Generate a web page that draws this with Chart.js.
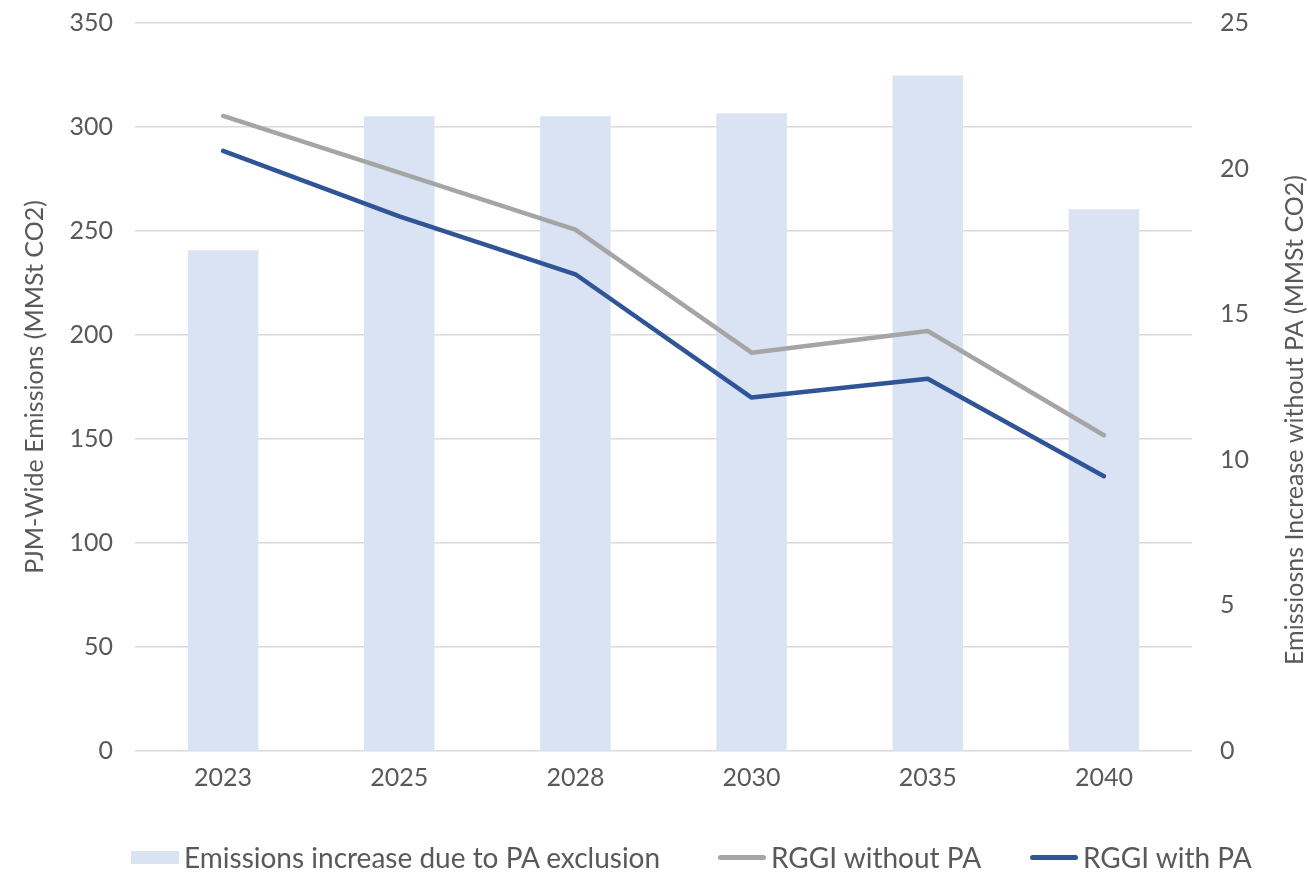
<!DOCTYPE html>
<html>
<head>
<meta charset="utf-8">
<title>PJM-Wide Emissions</title>
<script src="https://cdn.jsdelivr.net/npm/chart.js@4"></script>
<style>
    html, body { margin: 0; padding: 0; background: #ffffff; }
    #chartWrap { position: relative; width: 1308px; height: 872px; overflow: hidden; }
    #chartLegend { position: absolute; left: 0; top: 0; width: 1308px; height: 872px; pointer-events: none; }
    .legend-item {
        position: absolute; top: 842px; display: flex; align-items: center;
        font-family: Lato, "Open Sans", sans-serif; font-size: 28px; color: #595959;
        white-space: nowrap; line-height: 30px;
    }
    .legend-swatch { width: 48px; margin-right: 5px; }
</style>
</head>
<body>
<div id="chartWrap">
    <canvas id="emissionsChart" width="1308" height="872"></canvas>
    <div id="chartLegend"></div>
</div>
<script>
// Chart data
const years = ['2023', '2025', '2028', '2030', '2035', '2040'];
const increaseWithoutPA = [17.2, 21.8, 21.8, 21.9, 23.2, 18.6];   // right axis, bars
const rggiWithoutPA = [305.3, 278.1, 250.7, 191.5, 201.9, 151.8];  // left axis
const rggiWithPA = [288.5, 257.0, 229.2, 169.9, 179.0, 132.1];     // left axis
const leftTicks = [0, 50, 100, 150, 200, 250, 300, 350];
const rightTicks = [0, 5, 10, 15, 20, 25];

const fontFamily = 'Lato, "Open Sans", sans-serif';
const textColor = '#595959';
const gridColor = '#d9d9d9';
const rightTitle = 'Emissiosns Increase without PA (MMSt CO2)';

// left edge of each legend entry, as laid out in the reference
const legendLeft = [131, 718, 1030];

document.addEventListener('DOMContentLoaded', function() {
    Chart.defaults.font.family = fontFamily;
    Chart.defaults.color = textColor;
    Chart.defaults.animation = false;
    const chart = drawEmissionsChart();
    buildLegend(chart);
});

// Right axis title reads bottom-to-top, Chart.js rotates the other way, so draw it here
const rightTitlePlugin = {
    id: 'rightTitle',
    afterDraw(chart) {
        const c = chart.ctx;
        c.save();
        c.translate(1295, 420);
        c.rotate(-Math.PI / 2);
        c.font = '25px ' + fontFamily;
        c.fillStyle = textColor;
        c.textAlign = 'center';
        c.textBaseline = 'middle';
        c.fillText(rightTitle, 0, 0);
        c.restore();
    }
};

function noEdgePadding(scale) {
    scale.paddingTop = 0;
    scale.paddingBottom = 0;
}

function drawEmissionsChart() {
    const ctx = document.getElementById('emissionsChart').getContext('2d');

    return new Chart(ctx, {
        data: {
            labels: years,
            datasets: [
                {
                    type: 'bar',
                    label: 'Emissions increase due to PA exclusion',
                    data: increaseWithoutPA,
                    yAxisID: 'y1',
                    backgroundColor: '#dae3f3',
                    borderWidth: 0,
                    barPercentage: 0.4,
                    categoryPercentage: 1.0,
                    order: 3
                },
                {
                    type: 'line',
                    label: 'RGGI without PA',
                    data: rggiWithoutPA,
                    yAxisID: 'y',
                    borderColor: '#a5a5a5',
                    backgroundColor: '#a5a5a5',
                    borderWidth: 4.5,
                    borderJoinStyle: 'round',
                    borderCapStyle: 'round',
                    pointRadius: 0,
                    tension: 0,
                    order: 2
                },
                {
                    type: 'line',
                    label: 'RGGI with PA',
                    data: rggiWithPA,
                    yAxisID: 'y',
                    borderColor: '#2f5597',
                    backgroundColor: '#2f5597',
                    borderWidth: 4.5,
                    borderJoinStyle: 'round',
                    borderCapStyle: 'round',
                    pointRadius: 0,
                    tension: 0,
                    order: 1
                }
            ]
        },
        options: {
            responsive: false,
            layout: { padding: { left: 20, right: 8, top: 23, bottom: 0 } },
            plugins: {
                tooltip: { enabled: false },
                legend: { display: false }
            },
            scales: {
                x: {
                    grid: { display: false },
                    border: { display: false },
                    ticks: { color: textColor, font: { size: 25 }, padding: 4 },
                    afterFit: function(scale) { scale.height = 121; }
                },
                y: {
                    position: 'left',
                    min: 0,
                    max: 350,
                    afterBuildTicks: function(scale) {
                        scale.ticks = leftTicks.map(v => ({ value: v }));
                    },
                    grid: { color: gridColor, lineWidth: 1.5, drawTicks: false },
                    border: { display: false },
                    ticks: { color: textColor, font: { size: 25 }, padding: 22 },
                    title: {
                        display: true,
                        text: 'PJM-Wide Emissions (MMSt CO2)',
                        color: textColor,
                        font: { size: 25 },
                        padding: { top: 0, bottom: 0 }
                    },
                    afterFit: function(scale) {
                        scale.width = 115;
                        noEdgePadding(scale);
                    }
                },
                y1: {
                    position: 'right',
                    min: 0,
                    max: 25,
                    afterBuildTicks: function(scale) {
                        scale.ticks = rightTicks.map(v => ({ value: v }));
                    },
                    grid: { display: false },
                    border: { display: false },
                    ticks: { color: textColor, font: { size: 25 }, padding: 20 },
                    afterFit: function(scale) {
                        scale.width = 108;
                        noEdgePadding(scale);
                    }
                }
            }
        },
        plugins: [rightTitlePlugin]
    });
}

// Legend as real text under the canvas, one entry per dataset
function buildLegend(chart) {
    const box = document.getElementById('chartLegend');
    chart.data.datasets.forEach(function(ds, i) {
        const item = document.createElement('div');
        item.className = 'legend-item';
        item.style.left = legendLeft[i] + 'px';

        const swatch = document.createElement('span');
        swatch.className = 'legend-swatch';
        if (ds.type === 'bar') {
            swatch.style.height = '13px';
            swatch.style.background = ds.backgroundColor;
        } else {
            swatch.style.height = '5px';
            swatch.style.borderRadius = '3px';
            swatch.style.background = ds.borderColor;
        }

        const label = document.createElement('span');
        label.textContent = ds.label;

        item.appendChild(swatch);
        item.appendChild(label);
        box.appendChild(item);
    });
}
</script>
</body>
</html>
